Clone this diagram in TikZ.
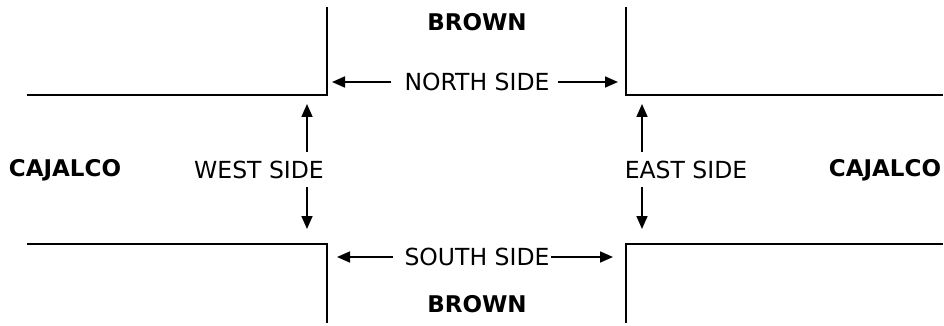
\documentclass[tikz,border=0pt]{standalone}
\usepackage{fontspec}
\setmainfont{DejaVu Sans}
\usetikzlibrary{arrows.meta}
\begin{document}
\begin{tikzpicture}[x=1pt,y=-1pt,
  curb/.style={line width=2.6pt, line cap=rect},
  dimarrow/.style={line width=1.7pt, -{Triangle[length=13pt,width=11pt]}},
  street/.style={font=\fontsize{23}{27}\selectfont\bfseries, inner sep=0pt},
  side/.style={font=\fontsize{23.5}{27}\selectfont, inner sep=0pt}]
\useasboundingbox[fill=white] (0,0) rectangle (944,326);
% curbs
\coordinate (tlv) at (327,8);  \coordinate (tlc) at (327,95);  \coordinate (tle) at (28,95);
\coordinate (trv) at (626,8);  \coordinate (trc) at (626,95);  \coordinate (tre) at (942,95);
\coordinate (blv) at (327,322); \coordinate (blc) at (327,244); \coordinate (ble) at (28,244);
\coordinate (brv) at (626,322); \coordinate (brc) at (626,244); \coordinate (bre) at (942,244);
\draw[curb] (tlv) -- (tlc) -- (tle);
\draw[curb] (trv) -- (trc) -- (tre);
\draw[curb] (blv) -- (blc) -- (ble);
\draw[curb] (brv) -- (brc) -- (bre);
% street names
\node[street] (browntop) at (477,22) {BROWN};
\node[street] (brownbot) at (477,304) {BROWN};
\node[street] (cajw) at (65,170) {CAJALCO};
\node[street] (caje) at (885,170) {CAJALCO};
% side labels
\node[side] (north) at (477,82) {NORTH SIDE};
\node[side] (south) at (477,257) {SOUTH SIDE};
\node[side] (west) at (259,170) {WEST SIDE};
\node[side] (east) at (686,170) {EAST SIDE};
% arrow ends
\coordinate (nl0) at (391,82); \coordinate (nl1) at (332,82);
\coordinate (nr0) at (558,82); \coordinate (nr1) at (618,82);
\coordinate (sl0) at (393,257); \coordinate (sl1) at (337,257);
\coordinate (sr0) at (551,257); \coordinate (sr1) at (613,257);
\coordinate (wu0) at (307,152); \coordinate (wu1) at (307,104);
\coordinate (wd0) at (307,187); \coordinate (wd1) at (307,229);
\coordinate (eu0) at (642,152); \coordinate (eu1) at (642,104);
\coordinate (ed0) at (642,187); \coordinate (ed1) at (642,229);
\draw[dimarrow] (nl0) -- (nl1);
\draw[dimarrow] (nr0) -- (nr1);
\draw[dimarrow] (sl0) -- (sl1);
\draw[dimarrow] (sr0) -- (sr1);
\draw[dimarrow] (wu0) -- (wu1);
\draw[dimarrow] (wd0) -- (wd1);
\draw[dimarrow] (eu0) -- (eu1);
\draw[dimarrow] (ed0) -- (ed1);
\end{tikzpicture}
\end{document}
